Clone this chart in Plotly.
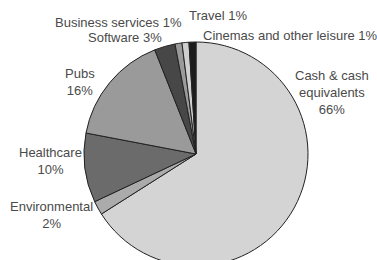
import plotly.graph_objects as go

labels = ["Cash & cash equivalents", "Environmental", "Healthcare", "Pubs",
          "Software", "Business services", "Travel", "Cinemas and other leisure"]
values = [66, 2, 10, 16, 3, 1, 1, 1]
colors = ["#d4d4d4", "#ababab", "#6b6b6b", "#9a9a9a", "#474747", "#9a9a9a", "#cfcfcf", "#1c1c1c"]

W, H = 377, 270
cx, cy, r = 196, 154, 112

fig = go.Figure(go.Pie(
    labels=labels, values=values, sort=False, direction="clockwise", rotation=0,
    marker=dict(colors=colors, line=dict(color="#222222", width=1)),
    textinfo="none", hoverinfo="label+percent", showlegend=False,
    domain=dict(x=[(cx - r) / W, (cx + r) / W], y=[(H - cy - r) / H, (H - cy + r) / H]),
))

# label display text and pixel centres
label_text = [
    "Cash & cash<br>equivalents<br>66%",
    "Environmental<br>2%",
    "Healthcare<br>10%",
    "Pubs<br>16%",
    "Software 3%",
    "Business services 1%",
    "Travel 1%",
    "Cinemas and other leisure 1%",
]
label_pos = [(332, 92), (51, 215), (50, 161), (80, 82), (125.5, 37), (118, 23), (218, 15), (290, 35)]

for t, (px, py) in zip(label_text, label_pos):
    fig.add_annotation(x=px / W, y=1 - py / H, xref="paper", yref="paper", text=t,
                       showarrow=False, xanchor="center", yanchor="middle",
                       font=dict(family="Liberation Sans, Arial", size=13, color="#4a4a4a"))

fig.update_layout(width=W, height=H, margin=dict(l=0, r=0, t=0, b=0),
                  paper_bgcolor="white", plot_bgcolor="white")

fig.write_html("out.html", config={"displayModeBar": False}, post_script=(
    "document.body.style.margin='0';document.body.style.overflow='hidden';"
    "document.documentElement.style.overflow='hidden';"))
